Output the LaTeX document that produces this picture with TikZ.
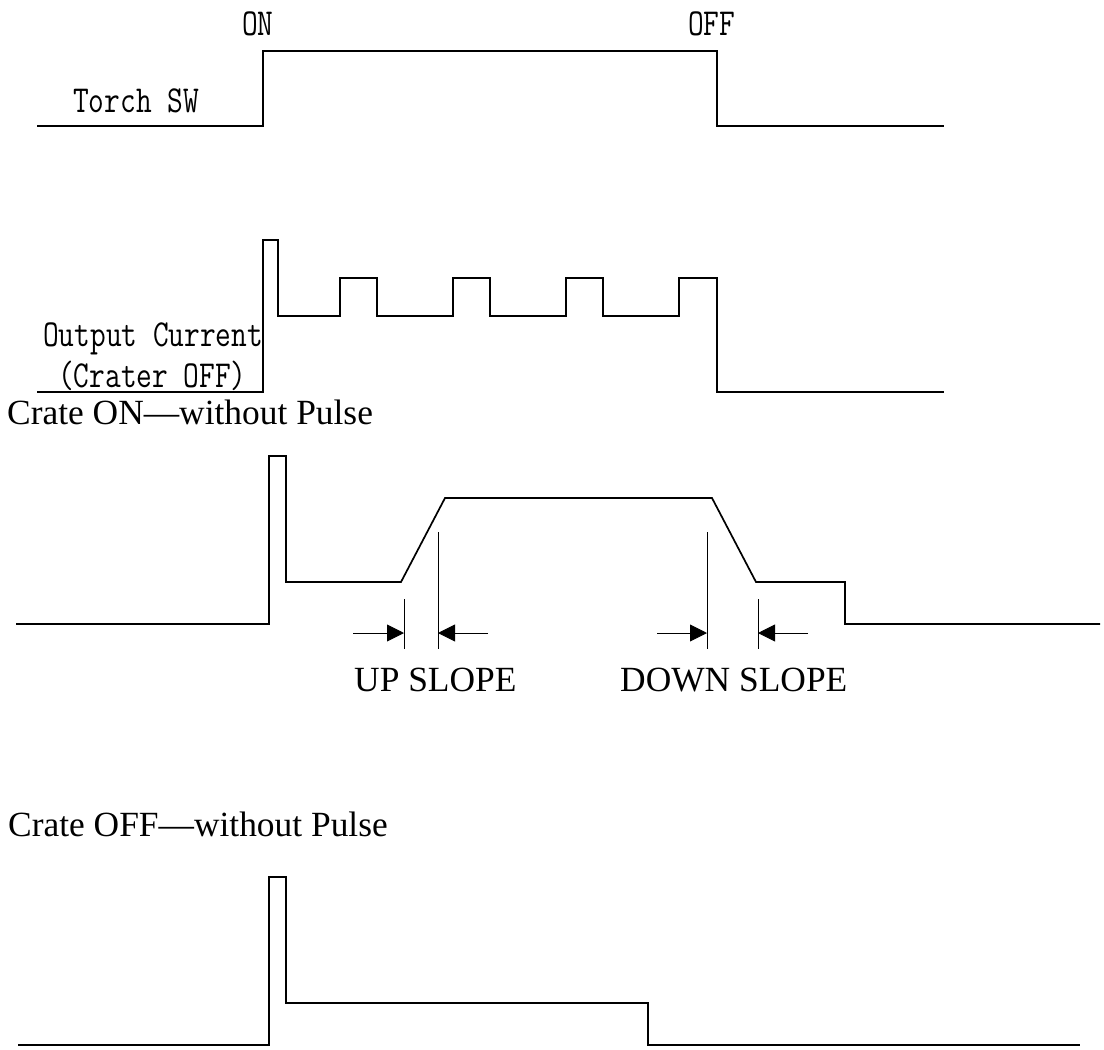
\documentclass[tikz,border=0pt]{standalone}
\usepackage{fontspec}
\setmainfont{Liberation Serif}
\newfontfamily\monofont{Latin Modern Mono}
\usetikzlibrary{arrows.meta}
\tikzset{
  wave/.style={line width=1.7pt, black},
  dimline/.style={line width=0.9pt, black},
  dimarrow/.style={line width=0.9pt, black, -{Triangle[length=17pt,width=17pt]}},
  serlabel/.style={anchor=base west, inner sep=0pt, font=\fontsize{35.4}{42}\selectfont},
  monolabel/.style={anchor=base west, inner sep=0pt, font=\monofont\fontsize{30.5}{34}\selectfont}
}
\newcommand{\tallmono}[1]{\scalebox{1}[1.25]{#1}}
\begin{document}
\begin{tikzpicture}[x=1pt,y=-1pt]
\useasboundingbox (0,0) rectangle (1104,1050);
% Row 1: Torch switch
\draw[wave] (37,126) -- (263,126) -- (263,51) -- (717,51) -- (717,126) -- (944,126);
\node[monolabel] (on) at (242,35) {\tallmono{ON}};
\node[monolabel] (off) at (688,35) {\tallmono{OFF}};
\node[monolabel] (torch) at (73,112) {\tallmono{Torch SW}};
% Row 2: output current, crater off, pulse
\draw[wave] (37,392) -- (263,392) -- (263,240) -- (278,240) -- (278,316)
  -- (340,316) -- (340,278) -- (377,278) -- (377,316)
  -- (453,316) -- (453,278) -- (490,278) -- (490,316)
  -- (566,316) -- (566,278) -- (603,278) -- (603,316)
  -- (679,316) -- (679,278) -- (717,278) -- (717,392) -- (944,392);
\node[monolabel] (outcur) at (43,346) {\tallmono{Output Current}};
\node[monolabel] (crater) at (58,387) {\tallmono{(Crater OFF)}};
% Row 3: crater on without pulse
\node[serlabel] (titleon) at (7,424) {Crate ON—without Pulse};
\draw[wave] (16,624) -- (269,624) -- (269,456) -- (286,456) -- (286,582) -- (401,582)
  -- (445,498) -- (712,498) -- (756,582) -- (845,582) -- (845,624) -- (1100,624);
\draw[dimline] (404,599) -- (404,649);
\draw[dimline] (438,532) -- (438,649);
\draw[dimline] (707,532) -- (707,649);
\draw[dimline] (758,599) -- (758,649);
\coordinate (ua1) at (353,633); \coordinate (ua2) at (404,633);
\coordinate (ub1) at (488,633); \coordinate (ub2) at (438,633);
\coordinate (da1) at (657,633); \coordinate (da2) at (707,633);
\coordinate (db1) at (808,633); \coordinate (db2) at (758,633);
\draw[dimarrow] (ua1) -- (ua2);
\draw[dimarrow] (ub1) -- (ub2);
\draw[dimarrow] (da1) -- (da2);
\draw[dimarrow] (db1) -- (db2);
\node[serlabel] (upslope) at (354,691) {UP SLOPE};
\node[serlabel] (downslope) at (620,691) {DOWN SLOPE};
% Row 4: crater off without pulse
\node[serlabel] (titleoff) at (8,836) {Crate OFF—without Pulse};
\draw[wave] (18,1045) -- (269,1045) -- (269,877) -- (286,877) -- (286,1003)
  -- (648,1003) -- (648,1045) -- (1080,1045);
\end{tikzpicture}
\end{document}
